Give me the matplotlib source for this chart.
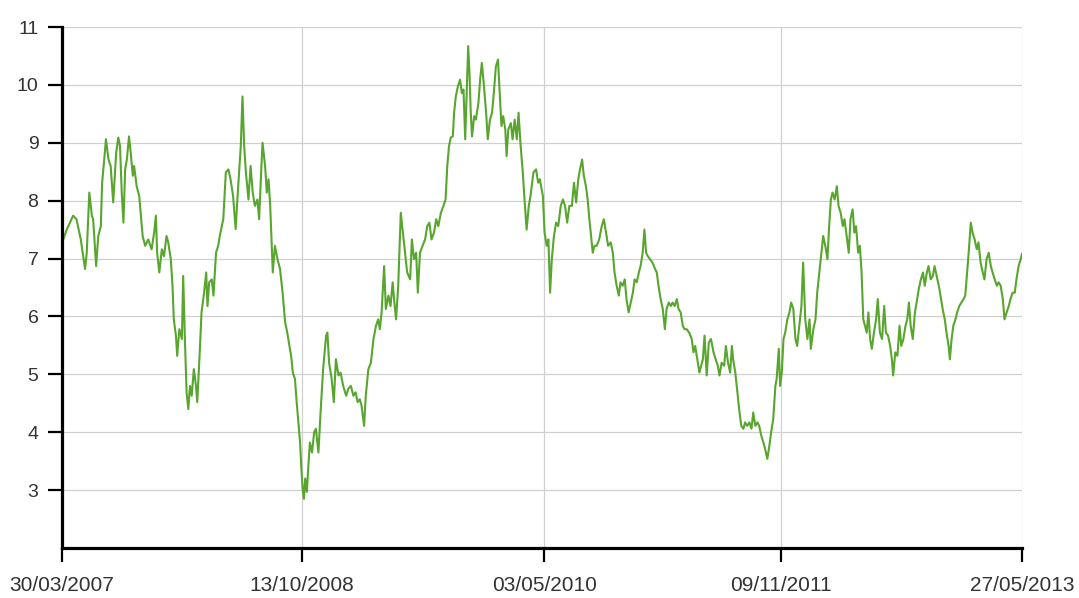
import datetime
import matplotlib
matplotlib.use("Agg")
import matplotlib.pyplot as plt

plt.rcParams['font.family'] = ['Liberation Sans', 'DejaVu Sans']

# days since 30/03/2007
day_offset = [
    0, 3, 11, 26, 34, 44, 54, 58, 64, 70,
    73, 80, 85, 91, 94, 99, 103, 109, 114, 120,
    127, 132, 136, 140, 144, 148, 152, 157, 161, 166,
    169, 175, 181, 185, 189, 195, 202, 210, 216, 220,
    223, 228, 234, 239, 245, 249, 255, 259, 262, 267,
    270, 275, 281, 284, 288, 292, 296, 300, 304, 309,
    314, 317, 322, 327, 333, 338, 341, 345, 351, 355,
    361, 366, 370, 378,
    384, 390, 395, 401, 407, 411, 415, 419, 423, 427,
    431, 437, 442, 447, 452, 458, 462, 466, 470, 476,
    480, 484, 488, 491, 494, 499, 505, 511, 517, 523,
    528, 533, 537, 541, 546, 550, 554, 558, 561, 564,
    567, 570, 574, 577, 581, 586, 591, 595, 601, 606,
    612, 619, 622, 626, 632, 637, 642, 648, 653, 659,
    666, 671, 677, 683, 688, 693, 698, 702, 708, 712,
    718, 724, 730, 736, 741,
    745, 749, 755, 759, 765, 770, 775, 779, 783, 788,
    794, 799, 804, 809, 816, 820, 825, 830, 834, 839,
    845, 851, 856, 861, 866, 872, 877, 882, 888, 894,
    899, 903, 907, 911, 916, 919, 923, 928, 933, 937,
    941, 945, 949, 952, 955, 958, 961, 966, 970, 976,
    980, 984, 989, 994, 998, 1003, 1008, 1012, 1017, 1022,
    1025, 1030, 1034, 1039, 1042, 1046, 1052, 1056, 1061, 1066,
    1070, 1075, 1080, 1084, 1089, 1094, 1098, 1105, 1111, 1116,
    1120, 1127, 1131, 1136, 1140, 1144, 1148, 1153, 1158, 1163,
    1169, 1174, 1179, 1184, 1189, 1195, 1200, 1205, 1210, 1214,
    1219, 1223, 1228, 1232, 1236, 1240, 1244, 1248, 1253, 1259,
    1265, 1270, 1275, 1280, 1286, 1291, 1295, 1300, 1305, 1309,
    1314, 1319, 1323, 1328, 1333, 1338, 1342, 1347, 1352, 1356,
    1361, 1365, 1369, 1373, 1378, 1384, 1390, 1394, 1398, 1403,
    1408, 1413, 1417, 1422, 1427, 1431, 1436, 1441, 1445, 1450,
    1455, 1459, 1464, 1470, 1476, 1480, 1484, 1489, 1494,
    1502, 1506, 1511, 1516, 1521, 1527, 1532, 1537, 1541, 1546,
    1552, 1556, 1561, 1566, 1570, 1573, 1578, 1583, 1587, 1592,
    1597, 1601, 1606, 1611, 1616, 1620, 1625, 1630, 1634, 1639,
    1644, 1648, 1653, 1658, 1662, 1667, 1672, 1675, 1680, 1683,
    1687, 1691, 1695, 1700, 1705, 1709, 1714, 1719, 1723, 1728,
    1733, 1737, 1742, 1747, 1752, 1755, 1761, 1766, 1770, 1775,
    1780, 1784, 1789, 1794, 1798, 1802, 1806, 1811, 1816, 1820,
    1825, 1830, 1834, 1839, 1844, 1848, 1853, 1857, 1861, 1866,
    1870, 1874,
    1878, 1882, 1886, 1890, 1894, 1898, 1903, 1908, 1912, 1917,
    1922, 1927, 1931, 1936, 1941, 1945, 1948, 1953, 1958, 1963,
    1967, 1972, 1977, 1981, 1985, 1989, 1994, 1999, 2003, 2008,
    2013, 2018, 2022, 2027, 2031, 2036, 2041, 2045, 2050, 2055,
    2059, 2064, 2069, 2073, 2078, 2081, 2085, 2089, 2094, 2098,
    2103, 2108, 2113, 2117, 2120, 2125, 2130, 2134, 2139, 2144,
    2148, 2153, 2158, 2162, 2167, 2172, 2177, 2181, 2186, 2191,
    2195, 2200, 2205, 2209, 2214, 2219, 2223, 2228, 2233, 2237,
    2242, 2247, 2250,
]

values = [
    7.30, 7.33, 7.50, 7.74, 7.68, 7.33, 6.82, 7.10, 8.14, 7.74,
    7.68, 6.87, 7.39, 7.56, 8.31, 8.71, 9.06, 8.71, 8.60, 7.97,
    8.83, 9.09, 8.94, 8.14, 7.62, 8.54, 8.71, 9.11, 8.83, 8.43,
    8.60, 8.25, 8.08, 7.74, 7.39, 7.22, 7.33, 7.16, 7.45, 7.74,
    7.10, 6.76, 7.16, 7.04, 7.39, 7.28, 6.99, 6.53, 5.95, 5.67,
    5.32, 5.78, 5.61, 6.70, 5.61, 4.69, 4.40, 4.80, 4.63, 5.09,
    4.80, 4.52, 5.26, 6.07, 6.41, 6.76, 6.18, 6.59, 6.64, 6.36,
    7.10, 7.22, 7.40, 7.68,
    8.49, 8.54, 8.37, 8.08, 7.51, 8.02, 8.49, 8.94, 9.80, 8.94,
    8.49, 8.02, 8.60, 8.14, 7.91, 8.02, 7.68, 8.37, 9.00, 8.60,
    8.14, 8.37, 7.91, 7.33, 6.76, 7.22, 6.99, 6.82, 6.41, 5.90,
    5.72, 5.49, 5.32, 5.03, 4.92, 4.52, 4.17, 3.82, 3.37, 3.02,
    2.85, 3.20, 2.97, 3.37, 3.82, 3.65, 4.00, 4.06, 3.65, 4.34,
    5.09, 5.67, 5.72, 5.20, 4.92, 4.52, 5.26, 4.98, 5.03, 4.80,
    4.63, 4.75, 4.80, 4.63, 4.69, 4.52, 4.57, 4.46, 4.11, 4.63,
    5.09, 5.20, 5.61, 5.84, 5.95,
    5.78, 6.07, 6.87, 6.13, 6.36, 6.18, 6.59, 6.24, 5.95, 6.53,
    7.79, 7.45, 7.10, 6.76, 6.64, 7.33, 6.99, 7.10, 6.41, 7.10,
    7.22, 7.33, 7.56, 7.62, 7.33, 7.45, 7.68, 7.56, 7.79, 7.91,
    8.02, 8.60, 8.94, 9.09, 9.11, 9.52, 9.80, 9.98, 10.09, 9.86,
    9.92, 9.06, 9.98, 10.67, 10.21, 9.52, 9.11, 9.46, 9.40, 9.69,
    10.09, 10.38, 9.98, 9.52, 9.06, 9.40, 9.52, 9.86, 10.32, 10.44,
    9.98, 9.29, 9.46, 9.23, 8.77, 9.23, 9.34, 9.06, 9.40, 9.06,
    9.52, 8.94, 8.49, 8.02, 7.50, 7.91, 8.08, 8.49, 8.54, 8.31,
    8.37, 8.08, 7.45, 7.22, 7.33, 6.41, 6.99, 7.39, 7.62, 7.56,
    7.91, 8.02, 7.91, 7.62, 7.91, 7.91, 8.31, 7.97, 8.37, 8.54,
    8.71, 8.43, 8.25, 8.02, 7.68, 7.39, 7.10, 7.22, 7.22, 7.33,
    7.56, 7.68, 7.45, 7.22, 7.28, 7.10, 6.76, 6.53, 6.36, 6.59,
    6.53, 6.64, 6.30, 6.07, 6.24, 6.41, 6.64, 6.59, 6.76, 6.87,
    7.10, 7.50, 7.10, 7.04, 6.99, 6.93, 6.82, 6.76, 6.53, 6.30,
    6.13, 5.78, 6.13, 6.24, 6.18, 6.24, 6.18, 6.30, 6.13, 6.07,
    5.84, 5.78, 5.78, 5.72, 5.61, 5.38, 5.49, 5.26, 5.03,
    5.26, 5.67, 4.98, 5.55, 5.61, 5.38, 5.26, 5.15, 4.98, 5.20,
    5.15, 5.49, 5.20, 5.03, 5.49, 5.26, 5.03, 4.69, 4.40, 4.11,
    4.06, 4.17, 4.11, 4.17, 4.06, 4.34, 4.11, 4.17, 4.11, 3.94,
    3.82, 3.71, 3.54, 3.77, 4.00, 4.23, 4.80, 4.92, 5.44, 4.80,
    5.03, 5.61, 5.72, 5.95, 6.07, 6.24, 6.13, 5.61, 5.49, 5.84,
    6.18, 6.93, 5.95, 5.61, 5.95, 5.44, 5.78, 5.95, 6.41, 6.76,
    7.10, 7.39, 7.22, 6.99, 7.56, 8.02, 8.14, 8.02, 8.25, 7.91,
    7.79, 7.56, 7.68, 7.39, 7.10, 7.68, 7.85, 7.45, 7.56, 7.10,
    7.22, 6.76,
    5.95, 5.84, 5.72, 6.07, 5.61, 5.44, 5.72, 5.95, 6.30, 5.72,
    5.61, 6.18, 5.72, 5.67, 5.49, 5.26, 4.98, 5.38, 5.32, 5.84,
    5.49, 5.61, 5.84, 5.95, 6.24, 5.84, 5.61, 6.07, 6.24, 6.47,
    6.64, 6.76, 6.53, 6.76, 6.87, 6.64, 6.70, 6.87, 6.70, 6.53,
    6.36, 6.13, 5.95, 5.72, 5.49, 5.26, 5.61, 5.84, 5.95, 6.07,
    6.18, 6.24, 6.30, 6.36, 6.64, 7.10, 7.62, 7.45, 7.33, 7.16,
    7.28, 6.93, 6.76, 6.64, 6.99, 7.10, 6.87, 6.76, 6.64, 6.53,
    6.59, 6.53, 6.30, 5.95, 6.07, 6.18, 6.30, 6.41, 6.41, 6.64,
    6.87, 6.99, 7.08,
]

tick_dates = ["30/03/2007", "13/10/2008", "03/05/2010", "09/11/2011", "27/05/2013"]
y_ticks = [3, 4, 5, 6, 7, 8, 9, 10, 11]

start = datetime.datetime(2007, 3, 30)
dates = [start + datetime.timedelta(days=d) for d in day_offset]
xticks = [datetime.datetime.strptime(s, "%d/%m/%Y") for s in tick_dates]

fig = plt.figure(figsize=(10.79, 5.98), dpi=100)
ax = fig.add_axes([62 / 1079, 50 / 598, 960 / 1079, 521 / 598])

ax.plot(dates, values, '-', color='#58a62e', lw=1.5)

ax.set_xlim(xticks[0], xticks[-1])
ax.set_ylim(2, 11)
ax.set_yticks(y_ticks)
ax.set_xticks(xticks)
ax.set_xticklabels(tick_dates)

ax.grid(True, color='#d0d0d0', lw=0.9)
ax.set_axisbelow(True)

ax.spines["top"].set_visible(False)
ax.spines["right"].set_visible(False)
ax.spines["left"].set_linewidth(2.3)
ax.spines["bottom"].set_linewidth(2.3)

ax.tick_params(axis='y', length=10, width=1.6, pad=7, labelsize=14, labelcolor='#333333')
ax.tick_params(axis='x', length=10, width=1.6, pad=10, labelsize=15, labelcolor='#333333')

plt.savefig("out.png", dpi=100)
